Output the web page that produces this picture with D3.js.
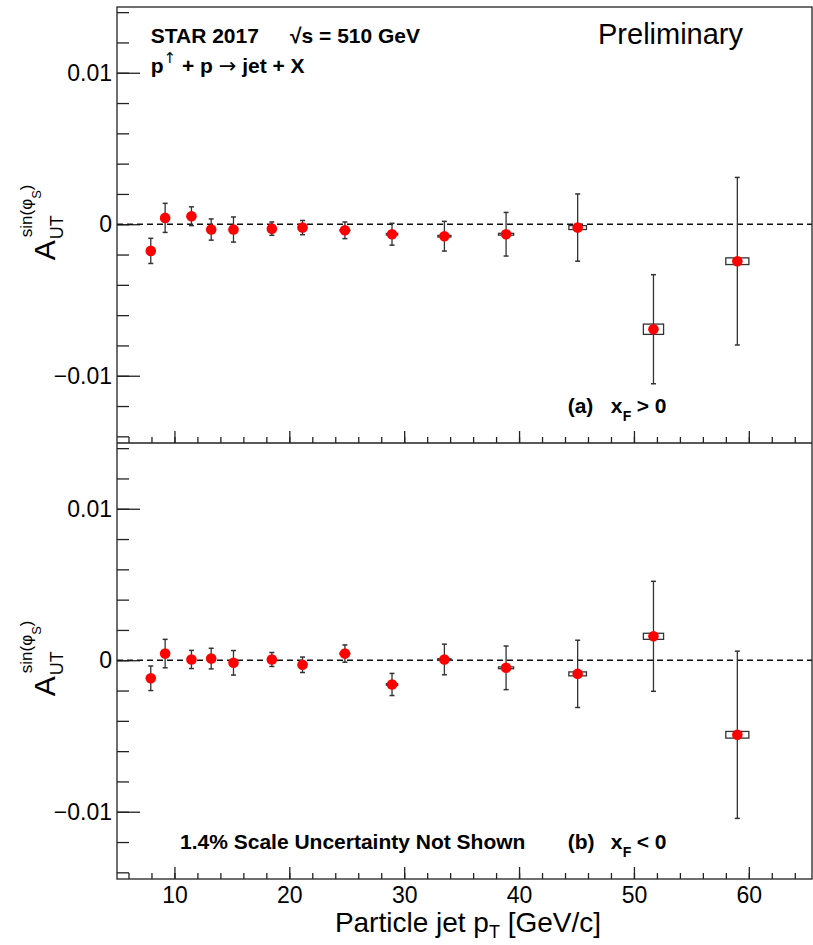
<!DOCTYPE html>
<html>
<head>
<meta charset="utf-8">
<script src="https://cdn.jsdelivr.net/npm/d3@7"></script>
<style>
  body { margin: 0; background: #fff; }
  svg { display: block; font-family: "Liberation Sans", Arial, Helvetica, sans-serif; }
</style>
</head>
<body>
<svg id="chart" width="813" height="945"></svg>
<script>
// jet pT bin centres [GeV/c], same bins in both panels
var jetPt = [7.94, 9.19, 11.48, 13.2, 15.14, 18.48, 21.15, 24.84, 28.94, 33.5, 38.87, 45.1, 51.7, 59.0];

// (a) xF > 0
var asymFwd = [-0.00176, 0.00042, 0.00053, -0.00035, -0.00035, -0.00029, -0.00022, -0.0004, -0.00066, -0.00079, -0.00066, -0.00022, -0.00693, -0.00244];
var statFwd = [0.00083, 0.00096, 0.00062, 0.0007, 0.00083, 0.00044, 0.00047, 0.00055, 0.00072, 0.00098, 0.00144, 0.00222, 0.0036, 0.00553];
var sysFwd  = [0.00003, 0.00003, 0.00003, 0.00003, 0.00003, 0.00003, 0.00003, 0.00004, 0.00005, 0.00005, 0.00006, 0.00013, 0.00034, 0.00022];

// (b) xF < 0
var asymBwd = [-0.00119, 0.00044, 0.00005, 0.00011, -0.00017, 0.00005, -0.0003, 0.00044, -0.0016, 0.00005, -0.0005, -0.0009, 0.00158, -0.00492];
var statBwd = [0.00081, 0.00094, 0.0006, 0.00068, 0.00081, 0.00046, 0.00051, 0.00057, 0.00073, 0.00101, 0.00144, 0.00222, 0.00363, 0.00552];
var sysBwd  = [0.00003, 0.00003, 0.00003, 0.00003, 0.00003, 0.00003, 0.00003, 0.00004, 0.00005, 0.00005, 0.00006, 0.00013, 0.0002, 0.00022];

var xMajor = [10, 20, 30, 40, 50, 60];
var xMinor = d3.range(6, 65, 2);
var yMajor = [-0.01, 0, 0.01];
var yMinor = d3.range(-0.014, 0.0141, 0.002);

var AXIS = "#222", BAR = "#333";
var plotL = 117, plotR = 812;
var boxFrac = 0.017; // systematic box half width, as a fraction of pT

var svg = d3.select("#chart");
var x = d3.scaleLinear().domain([5, 65.5]).range([plotL, plotR]);

function makePoints(a, s, sy){
	return jetPt.map(function(pt, i){ return { pt: pt, a: a[i], stat: s[i], sys: sy[i] }; });
}

var panels = [
	{ top: 7, bottom: 443, pts: makePoints(asymFwd, statFwd, sysFwd), tag: "(a)", rel: ">" },
	{ top: 443, bottom: 879, pts: makePoints(asymBwd, statBwd, sysBwd), tag: "(b)", rel: "<" }
];

function fmtY(d){
	return Math.abs(d) < 1e-9 ? "0" : d3.format(".2f")(d);
}

panels.forEach(function(p, pi){
	var y = d3.scaleLinear().domain([-0.01444, 0.01434]).range([p.bottom, p.top]);
	var g = svg.append("g");

	// y ticks pointing into the frame
	g.append("g").attr("transform", "translate(" + plotL + ",0)")
		.call(d3.axisRight(y).tickValues(yMinor).tickSize(12).tickFormat(""));
	g.append("g").attr("transform", "translate(" + plotL + ",0)")
		.call(d3.axisRight(y).tickValues(yMajor).tickSize(23).tickFormat(""));
	g.append("g").attr("class", "ylab").attr("transform", "translate(" + plotL + ",0)")
		.call(d3.axisLeft(y).tickValues(yMajor).tickSize(0).tickPadding(5).tickFormat(fmtY));

	// x ticks pointing up from the panel bottom
	g.append("g").attr("transform", "translate(0," + p.bottom + ")")
		.call(d3.axisTop(x).tickValues(xMinor).tickSize(6).tickFormat(""));
	g.append("g").attr("transform", "translate(0," + p.bottom + ")")
		.call(d3.axisTop(x).tickValues(xMajor).tickSize(12).tickFormat(""));
	if (pi == 1) {
		g.append("g").attr("class", "xlab").attr("transform", "translate(0," + p.bottom + ")")
			.call(d3.axisBottom(x).tickValues(xMajor).tickSize(0).tickPadding(8));
	}

	g.selectAll(".domain").remove();
	g.selectAll(".tick line").attr("stroke", AXIS).attr("stroke-width", 1.3);
	g.selectAll(".ylab text").attr("font-size", 23).attr("fill", "#000").attr("font-family", null);
	g.selectAll(".xlab text").attr("font-size", 23).attr("fill", "#000").attr("font-family", null);

	// zero line
	g.append("line")
		.attr("x1", x(5)).attr("x2", x(65.5))
		.attr("y1", y(0)).attr("y2", y(0))
		.attr("stroke", "#111").attr("stroke-width", 1.3)
		.attr("stroke-dasharray", "6,4");

	// systematic boxes
	g.selectAll(".sys").data(p.pts).enter().append("rect")
		.attr("class", "sys")
		.attr("x", function(d){ return x(d.pt * (1 - boxFrac)); })
		.attr("width", function(d){ return x(d.pt * (1 + boxFrac)) - x(d.pt * (1 - boxFrac)); })
		.attr("y", function(d){ return y(d.a + d.sys); })
		.attr("height", function(d){ return Math.max(1, y(d.a - d.sys) - y(d.a + d.sys)); })
		.attr("fill", "none").attr("stroke", BAR).attr("stroke-width", 1.3);

	// statistical error bars + caps
	g.selectAll(".err").data(p.pts).enter().append("line")
		.attr("class", "err")
		.attr("x1", function(d){ return x(d.pt); }).attr("x2", function(d){ return x(d.pt); })
		.attr("y1", function(d){ return y(d.a + d.stat); })
		.attr("y2", function(d){ return y(d.a - d.stat); })
		.attr("stroke", BAR).attr("stroke-width", 1.3);
	[1, -1].forEach(function(sg){
		g.selectAll(".cap" + sg).data(p.pts).enter().append("line")
			.attr("x1", function(d){ return x(d.pt) - 2.5; })
			.attr("x2", function(d){ return x(d.pt) + 2.5; })
			.attr("y1", function(d){ return y(d.a + sg * d.stat); })
			.attr("y2", function(d){ return y(d.a + sg * d.stat); })
			.attr("stroke", BAR).attr("stroke-width", 1.5);
	});

	// markers
	g.selectAll(".pt").data(p.pts).enter().append("circle")
		.attr("class", "pt")
		.attr("cx", function(d){ return x(d.pt); })
		.attr("cy", function(d){ return y(d.a); })
		.attr("r", 5.3)
		.attr("fill", "#ff0000");

	// y title  A_UT^{sin(phi_S)}
	var yt = g.append("g").attr("transform", "translate(0," + (y(0) + 36) + ") rotate(-90)");
	yt.append("text").attr("x", 0).attr("y", 55).attr("font-size", 30).text("A");
	yt.append("text").attr("x", 21).attr("y", 63).attr("font-size", 18).text("UT");
	var sup = yt.append("text").attr("x", 23).attr("y", 32).attr("font-size", 17).text("sin(φ");
	sup.append("tspan").attr("dy", 9).attr("font-size", 13).text("S");
	sup.append("tspan").attr("dy", -9).text(")");

	// panel tag
	var tg = g.append("text").attr("y", p.bottom - 30).attr("font-size", 21).attr("font-weight", "bold");
	tg.append("tspan").attr("x", 567.7).text(p.tag);
	tg.append("tspan").attr("x", 610.7).text("x");
	tg.append("tspan").attr("x", 622.7).attr("dy", 8).attr("font-size", 14).text("F");
	tg.append("tspan").attr("x", 636.7).attr("dy", -8).text(p.rel + " 0");
});

// frame
svg.append("rect")
	.attr("x", plotL).attr("y", 7)
	.attr("width", plotR - plotL).attr("height", 879 - 7)
	.attr("fill", "none").attr("stroke", AXIS).attr("stroke-width", 1.3);
svg.append("line")
	.attr("x1", plotL).attr("x2", plotR).attr("y1", 443).attr("y2", 443)
	.attr("stroke", AXIS).attr("stroke-width", 1.3);

// labels in the top panel
svg.append("text").attr("x", 150.7).attr("y", 43).attr("font-size", 21).attr("font-weight", "bold")
	.text("STAR 2017");
svg.append("text").attr("x", 290).attr("y", 43).attr("font-size", 21).attr("font-weight", "bold")
	.text("√s = 510 GeV");
var react = svg.append("text").attr("x", 150.7).attr("y", 73).attr("font-size", 21).attr("font-weight", "bold");
react.append("tspan").text("p");
react.append("tspan").attr("dy", -10).attr("font-size", 15).attr("font-weight", "normal")
	.attr("font-family", "DejaVu Sans").text("↑");
react.append("tspan").attr("dy", 10).text(" + p ");
react.append("tspan").attr("font-weight", "normal").attr("font-family", "DejaVu Sans").text("→");
react.append("tspan").text(" jet + X");

svg.append("text").attr("x", 598).attr("y", 44).attr("font-size", 29).text("Preliminary");

svg.append("text").attr("x", 180).attr("y", 849).attr("font-size", 21).attr("font-weight", "bold")
	.text("1.4% Scale Uncertainty Not Shown");

// x title
var xt = svg.append("text").attr("x", 468).attr("y", 932).attr("font-size", 28).attr("text-anchor", "middle");
xt.append("tspan").text("Particle jet p");
xt.append("tspan").attr("dy", 6).attr("font-size", 18).text("T");
xt.append("tspan").attr("dy", -6).text(" [GeV/c]");
</script>
</body>
</html>
